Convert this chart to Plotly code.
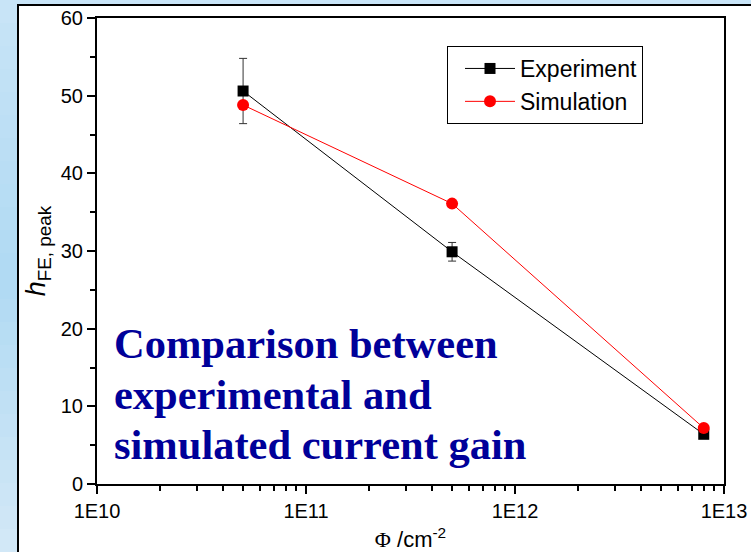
import plotly.graph_objects as go

# Fluence values (cm^-2) and peak current gain
fluence = [5e10, 5e11, 8e12]
hfe_experiment = [50.6, 29.9, 6.4]
hfe_experiment_err = [4.2, 1.2, 0.0]
hfe_simulation = [48.8, 36.1, 7.2]

x_tickvals = [1e10, 1e11, 1e12, 1e13]
x_ticktext = ["1E10", "1E11", "1E12", "1E13"]
y_tickvals = [0, 10, 20, 30, 40, 50, 60]

note_lines = ["Comparison between", "experimental and", "simulated current gain"]

W, H = 751, 552
L, R, T, B = 97, 27, 18, 68
pw, ph = W - L - R, H - T - B


def px_to_paper(x, y):
    return (x - L) / pw, (H - B - y) / ph


fig = go.Figure()

fig.add_trace(go.Scatter(
    x=fluence, y=hfe_experiment, name="Experiment",
    mode="lines+markers",
    line=dict(color="black", width=1),
    marker=dict(symbol="square", size=11, color="black"),
    error_y=dict(type="data", array=hfe_experiment_err, visible=True,
                 color="#333333", thickness=1, width=4),
))
fig.add_trace(go.Scatter(
    x=fluence, y=hfe_simulation, name="Simulation",
    mode="lines+markers",
    line=dict(color="red", width=1),
    marker=dict(symbol="circle", size=12, color="red"),
))

shapes = []
# soft vertical gradient behind the white panel
top_c, mid_c, bot_c = (200, 228, 247), (176, 218, 243), (210, 232, 247)
n = 24
for i in range(n):
    t = i / (n - 1)
    if t < 0.5:
        a, b, u = top_c, mid_c, t / 0.5
    else:
        a, b, u = mid_c, bot_c, (t - 0.5) / 0.5
    c = tuple(int(a[k] + (b[k] - a[k]) * u) for k in range(3))
    y0p = H * i / n
    y1p = H * (i + 1) / n + 1
    x0, ya = px_to_paper(0, y0p)
    x1, yb = px_to_paper(W, y1p)
    shapes.append(dict(type="rect", xref="paper", yref="paper",
                       x0=x0, x1=x1, y0=yb, y1=ya, layer="below",
                       fillcolor="rgb(%d,%d,%d)" % c, line=dict(width=0)))

# white panel framed in black
px0, py0 = px_to_paper(18, 5)
px1, py1 = px_to_paper(W + 10, H + 10)
shapes.append(dict(type="rect", xref="paper", yref="paper",
                   x0=px0, x1=px1, y0=py1, y1=py0, layer="below",
                   fillcolor="white", line=dict(color="black", width=2)))

annotations = []
ax0, _ = px_to_paper(112, 0)
for i, line in enumerate(note_lines):
    _, ay = px_to_paper(0, 359 + 50.5 * i)
    annotations.append(dict(
        text=line, xref="paper", yref="paper", x=ax0, y=ay,
        xanchor="left", yanchor="bottom", showarrow=False,
        font=dict(family="Liberation Serif", size=42.5, color="#000099",
                  weight="bold"),
        yshift=-10,
    ))

lx, ly = px_to_paper(447, 46)

fig.update_layout(
    width=W, height=H,
    margin=dict(l=L, r=R, t=T, b=B, autoexpand=False),
    paper_bgcolor="#bfe1f5",
    plot_bgcolor="white",
    shapes=shapes,
    annotations=annotations,
    font=dict(family="Liberation Sans", size=20, color="black"),
    showlegend=True,
    legend=dict(x=lx, y=ly, xanchor="left", yanchor="top",
                bgcolor="white", bordercolor="black", borderwidth=1,
                font=dict(size=23), tracegroupgap=0, itemwidth=50,
                indentation=12, entrywidth=135),
    xaxis=dict(
        type="log", range=[10, 13], automargin=False,
        tickvals=x_tickvals, ticktext=x_ticktext,
        ticks="outside", ticklen=8, tickwidth=1.5, tickcolor="black",
        showline=True, linecolor="black", linewidth=2, mirror=True,
        showgrid=False, zeroline=False,
        minor=dict(ticks="outside", ticklen=5, tickwidth=1.5,
                   tickcolor="black", dtick="D1", showgrid=False),
        title=dict(text='<span style="font-family:Liberation Serif">Φ</span> /cm<sup>-2</sup>',
                   font=dict(size=22), standoff=12),
    ),
    yaxis=dict(
        range=[0, 60], tickvals=y_tickvals, automargin=False,
        ticks="outside", ticklen=8, tickwidth=1.5, tickcolor="black",
        showline=True, linecolor="black", linewidth=2, mirror=True,
        showgrid=False, zeroline=False,
        minor=dict(ticks="outside", ticklen=5, tickwidth=1.5,
                   tickcolor="black", dtick=5, showgrid=False),
        title=dict(text="<i>h</i><sub>FE, peak</sub>", font=dict(size=27),
                   standoff=7),
    ),
)

fig.write_html("out.html")
